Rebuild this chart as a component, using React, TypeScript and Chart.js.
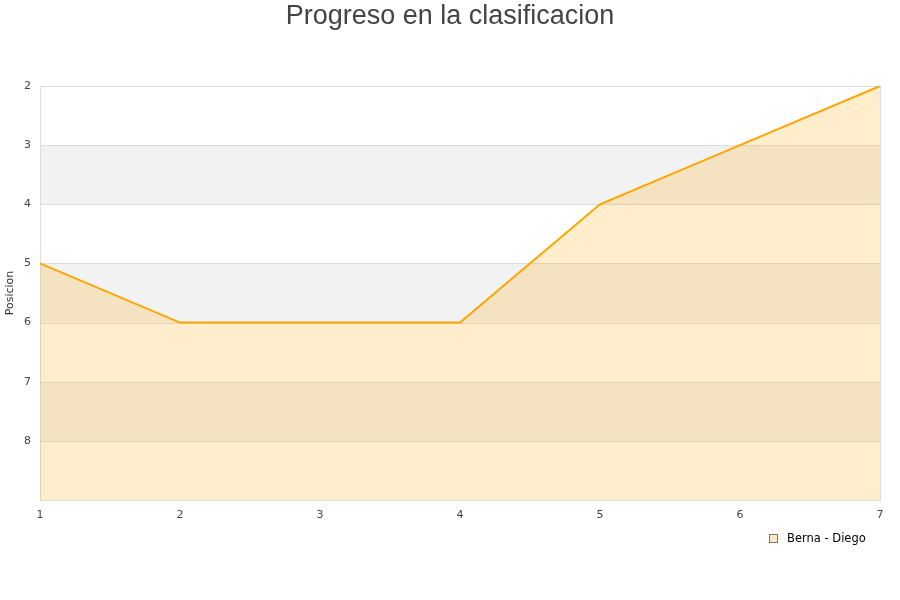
import React, { useEffect, useRef } from "react";
import { Chart, registerables } from "chart.js";

Chart.register(...registerables);

const jornadas = ["1", "2", "3", "4", "5", "6", "7"];
const posiciones = [5, 6, 6, 6, 4, 3, 2];
const seriesName = "Berna - Diego";
const titleText = "Progreso en la clasificacion";
const yTitle = "Posicion";

const bandsPlugin = {
  id: "bands",
  beforeDatasetsDraw(chart: any) {
    const { ctx, chartArea, scales } = chart;
    const y = scales.y;
    ctx.save();
    ctx.fillStyle = "#F2F2F2";
    for (let v = 3; v < 9; v += 2) {
      const top = y.getPixelForValue(v);
      const bot = y.getPixelForValue(v + 1);
      ctx.fillRect(chartArea.left, top, chartArea.right - chartArea.left, bot - top);
    }
    ctx.strokeStyle = "#DDDDDD";
    ctx.lineWidth = 1;
    for (let v = 2; v <= 9; v++) {
      const p = Math.round(y.getPixelForValue(v)) + 0.5;
      ctx.beginPath();
      ctx.moveTo(chartArea.left, p);
      ctx.lineTo(chartArea.right, p);
      ctx.stroke();
    }
    ctx.strokeRect(
      Math.round(chartArea.left) + 0.5,
      Math.round(chartArea.top) + 0.5,
      Math.round(chartArea.right - chartArea.left),
      Math.round(chartArea.bottom - chartArea.top)
    );
    ctx.restore();
  },
};

const headerLegendPlugin = {
  id: "headerLegend",
  afterDraw(chart: any) {
    const { ctx, width } = chart;
    ctx.save();
    ctx.fillStyle = "#444444";
    ctx.font = "27px 'Liberation Sans'";
    ctx.textAlign = "center";
    ctx.textBaseline = "middle";
    ctx.fillText(titleText, width / 2, 17);

    // legend
    ctx.fillStyle = "#FFE8C2";
    ctx.fillRect(769.5, 534.5, 8, 8);
    ctx.strokeStyle = "#777777";
    ctx.lineWidth = 1;
    ctx.strokeRect(769.5, 534.5, 8, 8);
    ctx.fillStyle = "#000000";
    ctx.font = "11.5px 'DejaVu Sans'";
    ctx.textAlign = "left";
    ctx.fillText(seriesName, 787, 539);
    ctx.restore();
  },
};

export default function App() {
  const ref = useRef<HTMLCanvasElement>(null);
  useEffect(() => {
    document.body.style.margin = "0";
    const chart = new Chart(ref.current!, {
      type: "line",
      data: {
        labels: jornadas,
        datasets: [
          {
            label: seriesName,
            data: posiciones,
            borderColor: "#FFA500",
            backgroundColor: "rgba(255,165,0,0.2)",
            borderWidth: 2,
            pointRadius: 0,
            tension: 0,
            fill: { value: 9 },
          },
        ],
      },
      options: {
        animation: false,
        responsive: false,
        layout: { padding: { left: 0, right: 20, top: 86, bottom: 80 } },
        plugins: {
          title: { display: false },
          legend: { display: false },
          tooltip: { enabled: false },
        },
        scales: {
          x: {
            offset: false,
            grid: { display: false },
            border: { display: false },
            afterFit: (s: any) => {
              s.height = 20;
            },
            ticks: {
              color: "#444444",
              font: { family: "DejaVu Sans", size: 11 },
              maxRotation: 0,
              padding: 1,
            },
          },
          y: {
            reverse: true,
            min: 2,
            max: 9,
            grid: { display: false },
            border: { display: false },
            afterFit: (s: any) => {
              s.width = 40;
            },
            ticks: {
              stepSize: 1,
              color: "#444444",
              font: { family: "DejaVu Sans", size: 11 },
              padding: 1,
              callback: (v: any) => (v === 9 ? "" : String(v)),
            },
            title: {
              display: true,
              text: yTitle,
              color: "#333333",
              font: { family: "DejaVu Sans", size: 11 },
              padding: { top: 4, bottom: 4 },
            },
          },
        },
      },
      plugins: [bandsPlugin, headerLegendPlugin],
    });
    return () => chart.destroy();
  }, []);
  return (
    <div style={{ width: 900, height: 600 }}>
      <canvas ref={ref} width={900} height={600} />
    </div>
  );
}
